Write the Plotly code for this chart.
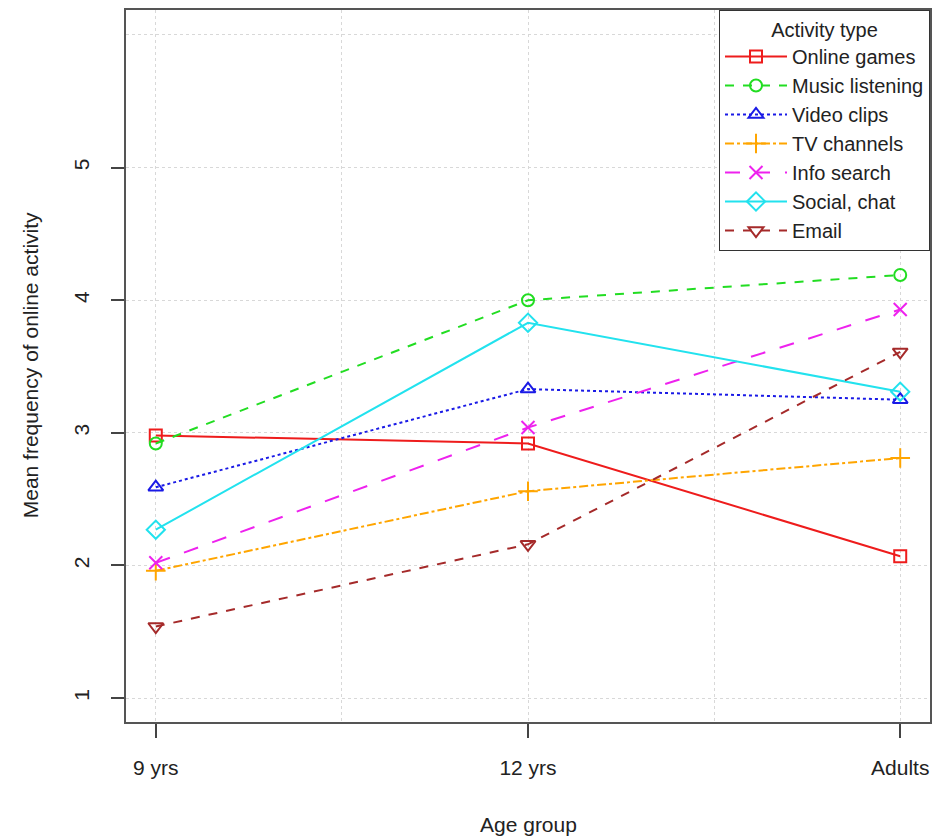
import plotly.graph_objects as go

age_groups = ["9 yrs", "12 yrs", "Adults"]
x_pos = [0, 1, 2]

activities = ["Online games", "Music listening", "Video clips", "TV channels",
              "Info search", "Social, chat", "Email"]
online_games = [2.98, 2.92, 2.07]
music_listening = [2.92, 4.00, 4.19]
video_clips = [2.59, 3.33, 3.25]
tv_channels = [1.96, 2.56, 2.81]
info_search = [2.02, 3.04, 3.93]
social_chat = [2.27, 3.83, 3.31]
email = [1.54, 2.16, 3.61]

series = [online_games, music_listening, video_clips, tv_channels,
          info_search, social_chat, email]
colors = ["#EE1C1C", "#22DD22", "#1A1AE6", "#FFA500", "#EE22EE", "#22E2EE", "#A52A2A"]
dashes = ["solid", "dash", "dot", "dashdot", "longdash", "solid", "dash"]
symbols = ["square-open", "circle-open", "triangle-up-open", "cross-thin-open",
           "x-thin-open", "diamond-open", "triangle-down-open"]
sizes = [12, 12, 13, 14, 13, 14, 13]

y_ticks = [1, 2, 3, 4, 5]
FONT = "Liberation Sans, Arial, sans-serif"
FS = 21
LFS = 20

fig = go.Figure()
for name, vals, c, d, s, sz in zip(activities, series, colors, dashes, symbols, sizes):
    fig.add_trace(go.Scatter(
        x=x_pos, y=vals, name=name, mode="lines+markers",
        line=dict(color=c, width=2, dash=d),
        marker=dict(symbol=s, size=sz, color=c, line=dict(color=c, width=2)),
    ))

fig.update_layout(
    width=940, height=830,
    margin=dict(l=118, r=18, t=0, b=116),
    paper_bgcolor="white", plot_bgcolor="white",
    font=dict(family=FONT, size=FS, color="#222"),
    showlegend=True,
    legend=dict(
        x=1, y=1, xanchor="right", yanchor="top",
        bgcolor="white", bordercolor="#333", borderwidth=1,
        title=dict(text="Activity type", side="top center", font=dict(size=LFS)),
        font=dict(size=LFS), tracegroupgap=0, itemwidth=62,
    ),
    xaxis=dict(
        range=[-0.08, 2.08], tickvals=x_pos, ticktext=age_groups,
        showline=True, linecolor="#555", linewidth=1.5, mirror=True,
        ticks="outside", ticklen=14, tickcolor="#444", tickwidth=1.5,
        ticklabelstandoff=12,
        showgrid=True, gridcolor="#d8d8d8", griddash="dot", gridwidth=1,
        minor=dict(tickvals=[0.5, 1.5], showgrid=True, gridcolor="#d8d8d8",
                   griddash="dot", ticklen=0),
        zeroline=False,
    ),
    yaxis=dict(
        range=[0.82, 6.188], tickvals=y_ticks, tickangle=-90,
        showline=True, linecolor="#555", linewidth=1.5, mirror=True,
        ticks="outside", ticklen=13, tickcolor="#444", tickwidth=1.5,
        ticklabelstandoff=14,
        showgrid=True, gridcolor="#d8d8d8", griddash="dot", gridwidth=1,
        minor=dict(tickvals=[6], showgrid=True, gridcolor="#d8d8d8",
                   griddash="dot", ticklen=0),
        zeroline=False,
    ),
    annotations=[
        dict(text="Age group", xref="paper", yref="paper", x=0.5, y=-0.1443,
             showarrow=False, font=dict(size=FS), xanchor="center", yanchor="middle"),
        dict(text="Mean frequency of online activity", xref="paper", yref="paper",
             x=-0.1194, y=0.501, textangle=-90, showarrow=False,
             font=dict(size=FS), xanchor="center", yanchor="middle"),
    ],
)

fig.write_html("out.html")
